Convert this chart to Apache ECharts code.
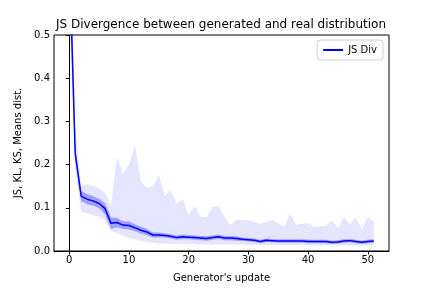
<!DOCTYPE html>
<html>
<head>
<meta charset="utf-8">
<script src="https://cdn.jsdelivr.net/npm/echarts@6/dist/echarts.min.js"></script>
<style>
html,body{margin:0;padding:0;background:#fff;}
#c{width:432px;height:288px;}
</style>
</head>
<body>
<div id="c"></div>
<script>
const updates = [0,1,2,3,4,5,6,7,8,9,10,11,12,13,14,15,16,17,18,19,20,21,22,23,24,25,26,27,28,29,30,31,32,33,34,35,36,37,38,39,40,41,42,43,44,45,46,47,48,49,50,51];
const jsMean = [0.70,0.226,0.127,0.120,0.116,0.110,0.098,0.064,0.066,0.060,0.059,0.054,0.048,0.044,0.037,0.037,0.036,0.034,0.031,0.033,0.032,0.031,0.030,0.029,0.031,0.033,0.030,0.030,0.029,0.027,0.026,0.025,0.022,0.025,0.024,0.023,0.023,0.023,0.023,0.023,0.022,0.022,0.022,0.022,0.020,0.021,0.023,0.024,0.022,0.020,0.022,0.023];
const jsStd = [0.03,0.013,0.012,0.012,0.011,0.011,0.013,0.013,0.011,0.009,0.009,0.008,0.008,0.007,0.006,0.006,0.005,0.005,0.005,0.005,0.005,0.005,0.005,0.005,0.005,0.005,0.005,0.005,0.005,0.004,0.004,0.004,0.004,0.004,0.004,0.004,0.004,0.004,0.004,0.004,0.004,0.004,0.004,0.004,0.004,0.004,0.004,0.004,0.004,0.004,0.004,0.004];
const jsMin = [0.55,0.19,0.091,0.087,0.083,0.079,0.070,0.045,0.042,0.036,0.030,0.027,0.024,0.021,0.019,0.018,0.017,0.016,0.016,0.016,0.016,0.016,0.015,0.015,0.015,0.015,0.015,0.015,0.015,0.015,0.014,0.014,0.014,0.014,0.014,0.014,0.014,0.014,0.014,0.014,0.013,0.013,0.013,0.013,0.013,0.013,0.013,0.013,0.013,0.013,0.013,0.013];
const jsMax = [0.87,0.288,0.150,0.155,0.150,0.145,0.134,0.106,0.218,0.178,0.199,0.245,0.160,0.147,0.150,0.176,0.127,0.141,0.109,0.120,0.083,0.104,0.079,0.078,0.103,0.103,0.080,0.060,0.072,0.072,0.072,0.067,0.0625,0.067,0.072,0.064,0.056,0.087,0.061,0.063,0.065,0.056,0.057,0.058,0.072,0.052,0.079,0.062,0.079,0.051,0.079,0.068];
const xTicks = [0,10,20,30,40,50];

function bandSeries(lo, hi, fill, z){
  return {
    type:'custom', silent:true, clip:true, z:z,
    data: updates.map((x,i)=>[x, lo[i], hi[i]]),
    encode:{x:0, y:[1,2]},
    renderItem:(params, api)=>{
      if (params.dataIndex !== 0) return null;
      const pts = [];
      for (let i=0;i<updates.length;i++) pts.push(api.coord([updates[i], hi[i]]));
      for (let i=updates.length-1;i>=0;i--) pts.push(api.coord([updates[i], lo[i]]));
      return {type:'polygon', shape:{points:pts}, style:{fill:fill, stroke:null}};
    }
  };
}
const stdLo = jsMean.map((m,i)=>m-jsStd[i]);
const stdHi = jsMean.map((m,i)=>m+jsStd[i]);

const chart = echarts.init(document.getElementById('c'), null, {renderer:'canvas'});
const font = 'DejaVu Sans';
chart.setOption({
  animation:false,
  backgroundColor:'#fff',
  title:{
    text:'JS Divergence between generated and real distribution',
    left:51, top:14,
    textStyle:{fontFamily:font,fontSize:12,fontWeight:'normal',color:'#000'}
  },
  legend:{
    data:[{name:'JS Div', icon:'rect'}],
    right:49, top:40,
    itemWidth:20, itemHeight:2,
    itemGap:5,
    padding:[5,6,5,6],
    borderColor:'#d0d0d0', borderWidth:1, borderRadius:3,
    textStyle:{fontFamily:font,fontSize:10,color:'#000'}
  },
  grid:{left:54,right:43,top:35,bottom:37,show:true,borderColor:'#000',borderWidth:1,backgroundColor:'transparent'},
  xAxis:{
    type:'value', min:-2.55, max:53.55,
    name:"Generator's update", nameLocation:'middle', nameGap:22,
    nameTextStyle:{fontFamily:font,fontSize:10,color:'#000'},
    axisLine:{show:true,lineStyle:{color:'#000',width:1}},
    axisTick:{show:true,length:3.5,lineStyle:{color:'#000'},customValues:xTicks},
    axisLabel:{fontFamily:font,fontSize:10,color:'#000',margin:4,customValues:xTicks},
    splitLine:{show:false}
  },
  yAxis:{
    type:'value', min:0, max:0.5, interval:0.1,
    name:'JS, KL, KS, Means dist.', nameLocation:'middle', nameGap:25, nameRotate:90,
    nameTextStyle:{fontFamily:font,fontSize:10,color:'#000'},
    axisLine:{show:true,lineStyle:{color:'#000',width:1}},
    axisTick:{show:true,length:3.5,lineStyle:{color:'#000'}},
    axisLabel:{fontFamily:font,fontSize:10,color:'#000',margin:4,formatter:v=>v.toFixed(1)},
    splitLine:{show:false}
  },
  series:[
    bandSeries(jsMin, jsMax, 'rgba(0,0,255,0.1)', 1),
    bandSeries(stdLo, stdHi, 'rgba(0,0,255,0.3)', 2),
    {name:'JS Div',type:'line',data:updates.map((x,i)=>[x,jsMean[i]]),symbol:'none',color:'#0000ff',lineStyle:{color:'#0000ff',width:1.5},z:3}
  ]
});
</script>
</body>
</html>
